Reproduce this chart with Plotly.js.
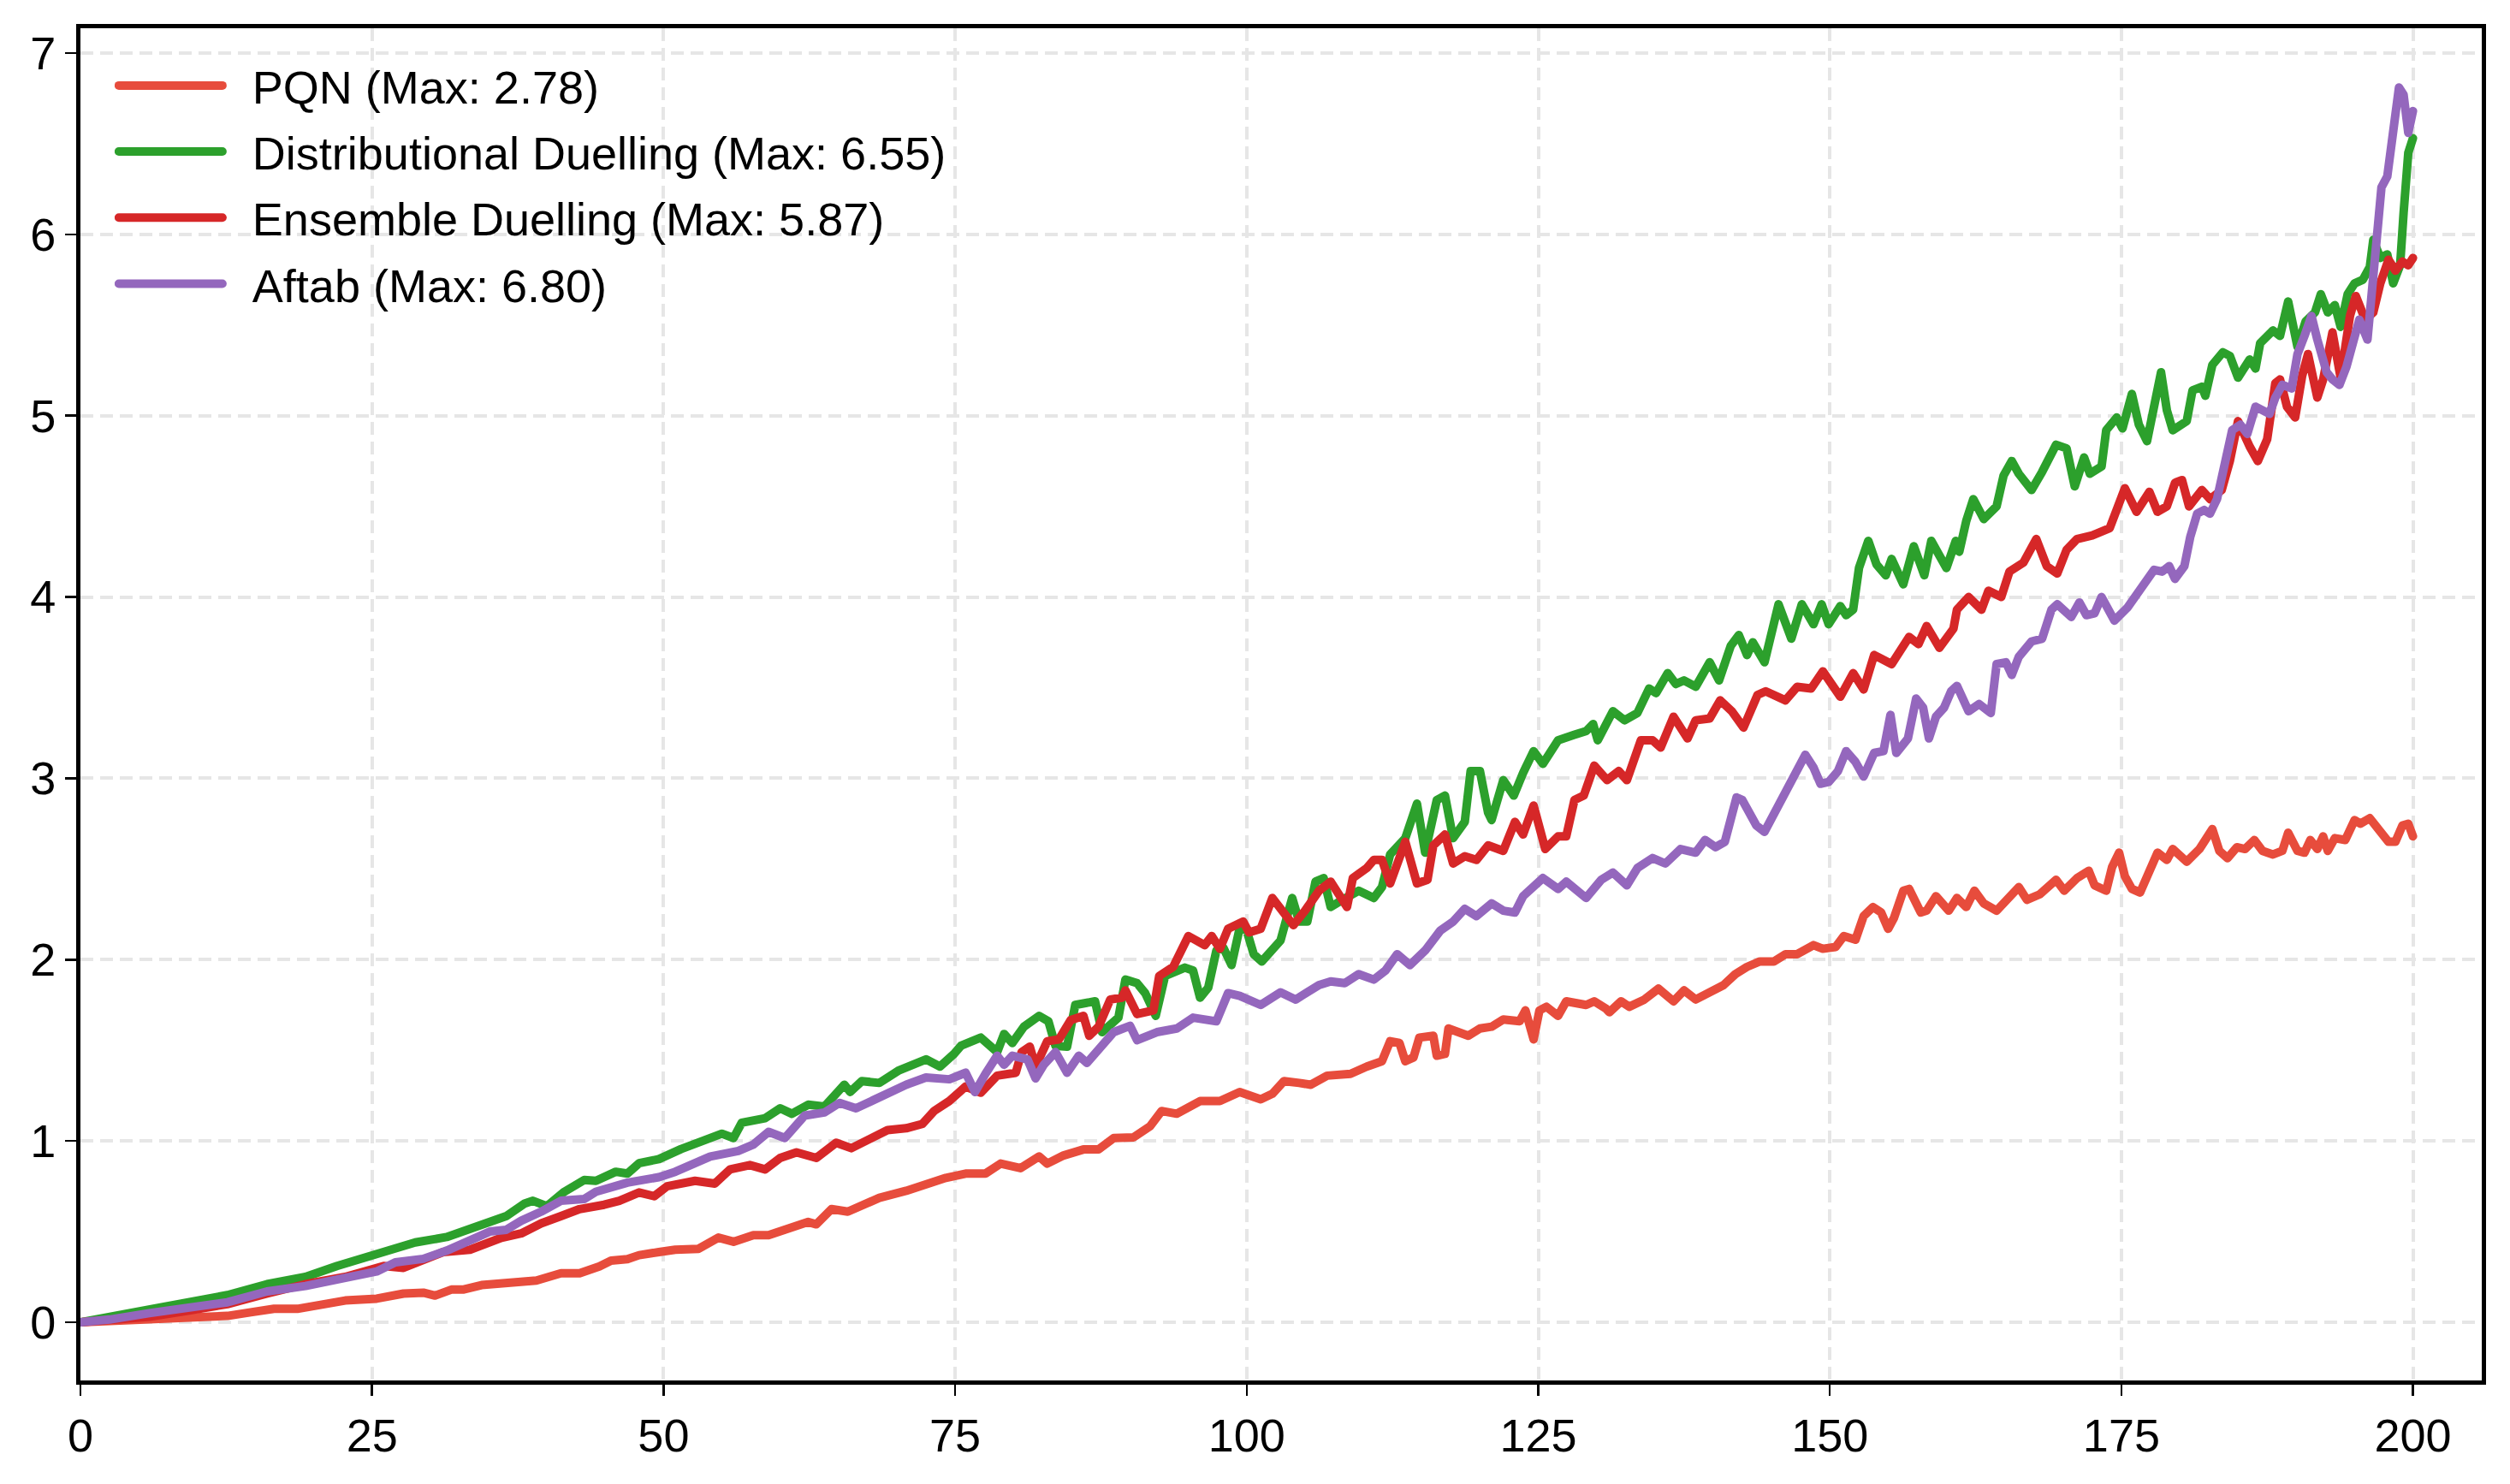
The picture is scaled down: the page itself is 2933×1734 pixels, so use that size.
<!DOCTYPE html>
<html>
<head>
<meta charset="utf-8">
<script src="https://cdn.plot.ly/plotly-3.0.1.min.js"></script>
<style>
html,body{margin:0;padding:0;background:#fff;}
#chart{width:2933px;height:1734px;}
.scatterlayer path.js-line{stroke-linejoin:round;stroke-linecap:round;}
.legend path.js-line{stroke-linecap:round;}
</style>
</head>
<body>
<div id="chart"></div>
<script>
const seriesNames = ["PQN (Max: 2.78)", "Distributional Duelling (Max: 6.55)", "Ensemble Duelling (Max: 5.87)", "Aftab (Max: 6.80)"];
const seriesColors = ["#e74c3c", "#2ca02c", "#d62728", "#9467bd"];
const xTicks = [0, 25, 50, 75, 100, 125, 150, 175, 200];
const yTicks = [0, 1, 2, 3, 4, 5, 6, 7];

const pqnX = [0,2.5,5.9,9.2,12.6,14.6,16.6,18.6,20.7,22.7,25.4,27.7,29.4,30.4,31.8,32.8,34.4,36.1,37.8,39.1,41.2,42.8,44.5,45.5,46.9,47.9,49.6,51,53,54.7,56,57.7,59,61,62.4,63.1,64.4,65.8,67.1,68.5,70.8,72.5,74.2,75.9,77.6,78.9,80.6,82.2,82.9,84.3,86,87.3,88.6,90.3,91.7,92.7,94,96,97.7,99.4,100.2,101.2,102.2,103.2,104.5,105.5,106.9,108.9,110.3,111.6,112.3,113.1,113.6,114.3,114.8,116,116.3,117,117.3,119,120,121,122,123.4,123.9,124.6,125.1,125.7,126.7,127.4,129.1,129.8,130.8,131.1,132.1,132.8,134.1,135.3,136.6,137.5,138.5,139.8,140.9,141.9,142.9,144,145.2,146.2,147.2,148.6,149.4,150.5,151.2,152.2,152.9,153.7,154.4,155,155.5,156.3,156.8,157.8,158.3,159.1,160.2,160.9,161.7,162.4,163.2,164.3,165.4,166.2,166.9,168,169.4,170.1,171.2,172.2,172.7,173.7,174.2,174.8,175.3,175.9,176.6,177.4,178.1,178.9,179.4,180.6,181.7,182.8,183.4,184.1,184.9,185.6,186.4,187.1,188,188.8,189.3,190.1,190.7,191.2,191.8,192.3,192.7,193.3,194.2,195,195.5,196.3,197,197.9,198.5,199.1,199.6,200];
const pqnY = [0,0.005,0.01,0.02,0.035,0.055,0.074,0.074,0.10,0.12,0.13,0.158,0.163,0.147,0.18,0.18,0.205,0.216,0.23,0.23,0.27,0.27,0.308,0.34,0.348,0.37,0.387,0.40,0.405,0.467,0.444,0.48,0.48,0.53,0.553,0.54,0.624,0.61,0.647,0.686,0.725,0.765,0.796,0.82,0.82,0.875,0.85,0.914,0.875,0.92,0.953,0.953,1.016,1.02,1.08,1.165,1.15,1.22,1.22,1.27,1.25,1.23,1.26,1.33,1.32,1.31,1.36,1.37,1.41,1.44,1.55,1.54,1.44,1.46,1.57,1.58,1.47,1.48,1.62,1.58,1.62,1.63,1.67,1.66,1.72,1.56,1.72,1.74,1.69,1.77,1.75,1.77,1.73,1.71,1.77,1.74,1.78,1.84,1.77,1.83,1.78,1.83,1.86,1.92,1.96,1.99,1.99,2.03,2.03,2.08,2.06,2.07,2.13,2.11,2.24,2.29,2.26,2.17,2.23,2.38,2.39,2.26,2.27,2.35,2.27,2.34,2.29,2.38,2.31,2.27,2.34,2.40,2.33,2.36,2.44,2.38,2.45,2.49,2.41,2.38,2.51,2.59,2.46,2.39,2.37,2.50,2.59,2.55,2.61,2.54,2.61,2.72,2.60,2.56,2.62,2.61,2.66,2.60,2.58,2.60,2.70,2.60,2.59,2.66,2.61,2.68,2.60,2.67,2.66,2.77,2.75,2.78,2.72,2.65,2.65,2.74,2.75,2.68];

const distX = [0,2.5,5.9,9.2,12.6,16.0,19.3,22.0,25.4,28.7,31.4,33.1,34.8,36.5,38.1,38.8,40.0,41.5,43.2,44.2,45.9,46.9,47.9,49.6,51.5,53,55,56,56.7,58.7,60,61,62.4,63.8,64.8,65.5,66,67,68.5,70.2,72.5,73.7,74.9,75.5,77.2,77.9,78.6,79.2,79.9,80.9,82.2,83,83.6,84.6,85.3,87,87.6,89,89.6,90.6,91.3,92.2,93,94.7,95.4,96,96.7,97.4,98,98.7,99.4,100,100.6,101.3,102.2,102.9,103.9,104.5,105.2,105.9,106.6,107.2,108.2,109.6,110.9,111.6,112.3,113.6,114.6,115.3,116.3,117,117.7,118.7,119.2,120,120.7,121,122,122.9,123.7,124.6,125.4,126.7,128.1,129.1,129.7,130.1,131.4,132.4,133.5,134.5,135.1,136.1,136.8,137.5,138.5,139.7,140.5,141.5,142.2,142.9,143.4,144.4,145.6,146.7,147.6,148.6,149.3,149.9,150.9,151.4,152,152.5,153.3,154,154.8,155.3,156.3,157.2,158.1,158.7,159.3,160,160.8,161.1,161.7,162.3,163.2,164.3,164.9,165.6,166.2,167.3,168.2,169.4,170.3,171,171.8,172.3,173.3,173.7,174.6,175.1,175.9,176.5,177.2,177.8,178.4,178.9,179.4,180.6,181.1,181.9,182.2,182.8,183.7,184.3,185,186,186.5,186.9,188,188.6,189.3,190.1,190.8,191.6,192.1,192.7,193.3,193.8,194.4,195,195.7,196.3,196.6,197.2,197.8,198.3,198.9,199.2,199.6,200];
const distY = [0,0.03,0.06,0.11,0.15,0.21,0.25,0.31,0.37,0.44,0.47,0.51,0.545,0.585,0.655,0.67,0.64,0.72,0.785,0.78,0.83,0.82,0.877,0.90,0.955,0.99,1.04,1.016,1.10,1.125,1.18,1.15,1.20,1.19,1.27,1.31,1.27,1.33,1.32,1.39,1.45,1.41,1.48,1.525,1.57,1.525,1.49,1.59,1.54,1.63,1.69,1.66,1.525,1.52,1.75,1.77,1.60,1.68,1.89,1.87,1.815,1.69,1.91,1.956,1.94,1.79,1.845,2.05,2.066,1.97,2.175,2.16,2.03,1.99,2.05,2.105,2.34,2.21,2.21,2.43,2.45,2.29,2.33,2.38,2.34,2.40,2.58,2.67,2.86,2.59,2.88,2.905,2.67,2.76,3.04,3.04,2.81,2.77,2.99,2.905,3.03,3.15,3.08,3.21,3.24,3.26,3.30,3.21,3.37,3.32,3.36,3.495,3.47,3.58,3.52,3.54,3.505,3.64,3.54,3.73,3.79,3.68,3.75,3.64,3.96,3.77,3.96,3.85,3.96,3.85,3.95,3.90,3.93,4.16,4.31,4.18,4.12,4.21,4.07,4.28,4.12,4.31,4.24,4.16,4.31,4.25,4.42,4.54,4.43,4.50,4.67,4.75,4.68,4.59,4.69,4.84,4.82,4.61,4.77,4.68,4.72,4.92,4.99,4.93,5.12,4.95,4.86,5.05,5.24,5.03,4.92,4.97,5.14,5.16,5.11,5.28,5.35,5.33,5.21,5.31,5.26,5.40,5.47,5.44,5.63,5.38,5.52,5.57,5.67,5.57,5.61,5.49,5.67,5.73,5.75,5.82,5.97,5.87,5.89,5.73,5.83,6.12,6.45,6.53];

const ensX = [0,5.9,9.2,12.6,16.0,19.3,22.7,26.0,27.7,31.1,33.4,36.1,37.8,39.5,41.2,42.8,44.9,46.2,47.9,49.2,50.3,51.6,52.7,54.4,55.7,57.4,58.7,60,61.4,63.1,64.8,66.1,67.8,69.2,70.8,72.2,73.2,74.5,75.9,77.2,78.6,80.2,80.7,81.4,81.9,82.9,83.9,84.9,86,86.5,87.3,88.3,89.3,89.6,90.6,92,92.5,93.7,95,96.4,97,97.7,98.4,99.7,100.2,101.2,102.2,102.9,104,105,106.2,107.2,108.6,109.1,110.3,110.9,111.6,112.3,113.6,114.6,115.5,116,117,117.7,118.7,119.7,120.7,122,123,123.7,124.6,125.6,126.7,127.4,128.1,128.9,129.8,130.9,131.9,132.6,133.8,134.8,135.5,136.6,137.8,138.5,139.7,140.6,141.6,142.6,143.8,144.5,146.2,147.2,148.4,149.4,150.1,150.9,152,152.9,153.8,155.3,156.8,157.6,158.3,159.4,160.6,160.9,161.9,163,163.6,164.7,165.4,166.6,167.7,168.6,169.5,170.3,171.2,172.5,174,174.8,175.3,176.3,177.4,178.1,178.9,179.6,180.2,180.8,181.9,182.6,183.6,184.3,185,186,186.7,187.5,188.2,188.6,189.2,189.9,190.5,191,191.8,192.3,193.1,193.8,194.6,195.1,195.9,196.6,197.2,197.9,198.5,199.1,199.6,200];
const ensY = [0,0.03,0.063,0.10,0.158,0.21,0.25,0.31,0.30,0.387,0.40,0.466,0.49,0.545,0.585,0.624,0.648,0.67,0.716,0.695,0.75,0.763,0.78,0.765,0.843,0.867,0.843,0.906,0.937,0.906,0.99,0.96,1.01,1.06,1.07,1.094,1.165,1.22,1.30,1.266,1.36,1.376,1.49,1.52,1.41,1.55,1.56,1.666,1.69,1.58,1.63,1.78,1.79,1.83,1.70,1.72,1.91,1.96,2.13,2.08,2.13,2.06,2.17,2.21,2.15,2.17,2.34,2.28,2.19,2.27,2.38,2.43,2.29,2.45,2.505,2.55,2.55,2.42,2.65,2.42,2.44,2.63,2.69,2.53,2.57,2.55,2.63,2.60,2.76,2.69,2.85,2.61,2.68,2.68,2.88,2.905,3.07,2.99,3.04,2.99,3.21,3.21,3.17,3.34,3.22,3.32,3.33,3.43,3.37,3.28,3.46,3.48,3.43,3.505,3.495,3.59,3.53,3.45,3.58,3.49,3.68,3.63,3.78,3.74,3.84,3.72,3.825,3.93,4.0,3.93,4.035,4.0,4.14,4.19,4.32,4.17,4.13,4.26,4.32,4.34,4.38,4.51,4.60,4.47,4.58,4.47,4.50,4.63,4.645,4.50,4.59,4.54,4.59,4.75,4.97,4.83,4.75,4.87,5.18,5.20,5.05,4.99,5.22,5.34,5.10,5.20,5.46,5.21,5.55,5.66,5.53,5.57,5.73,5.86,5.80,5.85,5.83,5.87];

const aftX = [0,2.5,5.9,9.2,12.6,16.0,19.3,22.7,25.4,27.0,29.4,31.4,33.4,35.1,36.5,37.8,39.5,41.2,43.2,44.2,46.9,49.6,51,52.4,54,56.4,57.7,59,60.4,61,62.1,63.8,65.1,66.5,67.8,69.2,70.8,72.5,74.5,75.9,76.7,77.6,78.6,79.2,79.9,81.2,81.9,82.6,83.6,84.6,85.6,86.3,87.6,88.6,90,90.6,92.3,94,95.4,97.4,98.4,99.4,101.2,102.9,104.2,106.2,107.2,108.4,109.6,110.9,111.9,112.9,114,115.3,116.6,117.7,118.7,119.7,121,122,123,123.7,125.4,126.7,127.4,128.4,129.1,130.4,131.4,132.6,133.5,134.8,135.9,137.2,138.5,139.3,140.2,141,142,142.5,143.7,144.4,145.2,145.9,146.9,147.9,148.6,149.2,149.9,150.7,151.4,152.2,152.9,153.8,154.6,155.2,155.7,156.7,157.4,158,158.5,159.1,159.8,160.4,160.9,161.9,162.8,163.8,164.3,165.1,165.6,166.2,167.3,168.2,169,169.5,170.7,171.4,172,172.7,173.3,174,174.4,175.5,176.3,177.2,177.8,178.5,179.1,179.6,180.4,180.9,181.5,182.1,182.6,183.2,183.7,184.5,185.2,185.8,186.5,187.7,188.2,188.8,189.6,190.1,190.7,191.3,191.8,192.6,193.1,193.7,194.3,194.8,195.4,196.1,196.7,197.3,197.8,198.4,198.8,199.2,199.6,200];
const aftY = [0,0.015,0.05,0.08,0.11,0.17,0.20,0.245,0.28,0.33,0.35,0.395,0.45,0.50,0.51,0.56,0.61,0.67,0.68,0.72,0.77,0.80,0.83,0.867,0.914,0.945,0.98,1.05,1.016,1.06,1.14,1.157,1.21,1.18,1.22,1.27,1.31,1.35,1.34,1.376,1.27,1.37,1.47,1.42,1.47,1.45,1.345,1.42,1.49,1.376,1.47,1.43,1.52,1.60,1.635,1.556,1.60,1.62,1.68,1.66,1.815,1.80,1.75,1.82,1.78,1.86,1.88,1.87,1.92,1.89,1.94,2.03,1.97,2.05,2.16,2.21,2.28,2.24,2.31,2.27,2.26,2.35,2.45,2.39,2.43,2.37,2.34,2.44,2.48,2.41,2.505,2.56,2.53,2.61,2.59,2.66,2.62,2.65,2.895,2.88,2.74,2.705,2.80,2.905,3.01,3.13,3.06,2.97,2.98,3.04,3.15,3.09,3.01,3.14,3.15,3.35,3.14,3.22,3.44,3.39,3.22,3.34,3.39,3.48,3.51,3.37,3.41,3.36,3.63,3.64,3.57,3.67,3.755,3.77,3.93,3.96,3.89,3.97,3.90,3.91,4.0,3.91,3.87,3.94,4.02,4.09,4.15,4.14,4.17,4.10,4.17,4.33,4.46,4.48,4.46,4.54,4.69,4.92,4.95,4.90,5.05,5.01,5.10,5.17,5.15,5.34,5.44,5.55,5.42,5.24,5.20,5.17,5.27,5.40,5.53,5.42,5.87,6.26,6.32,6.63,6.81,6.77,6.56,6.68];

const xs = [pqnX, distX, ensX, aftX];
const ys = [pqnY, distY, ensY, aftY];

const traces = seriesNames.map((name, i) => ({
  type: 'scatter',
  mode: 'lines',
  name: '\u00a0\u00a0' + name,
  legendgroup: 'g' + i,
  x: xs[i],
  y: ys[i],
  line: {color: seriesColors[i], width: 10, shape: 'linear'}
}));

const fontFamily = '"Liberation Sans", Arial, Helvetica, sans-serif';

const layout = {
  width: 2933,
  height: 1734,
  margin: {l: 94, r: 33, t: 33, b: 121, pad: 0},
  paper_bgcolor: '#ffffff',
  plot_bgcolor: '#ffffff',
  font: {family: fontFamily, size: 54, color: '#000000'},
  showlegend: true,
  legend: {
    x: 0.0142, y: 0.984, xanchor: 'left', yanchor: 'top',
    bgcolor: 'rgba(255,255,255,0)',
    borderwidth: 0,
    font: {family: fontFamily, size: 54, color: '#000000'},
    itemwidth: 121,
    tracegroupgap: 4
  },
  xaxis: {
    range: [0, 205.9],
    tickmode: 'array',
    tickvals: xTicks,
    ticktext: xTicks.map(String),
    ticks: 'outside', ticklen: 13, tickwidth: 2.5, tickcolor: '#000000',
    tickfont: {family: fontFamily, size: 54, color: '#000000'},
    showline: true, linecolor: '#000000', linewidth: 5, mirror: true,
    showgrid: true, gridcolor: '#e6e6e6', gridwidth: 4, griddash: '15px,8px',
    zeroline: false
  },
  yaxis: {
    range: [-0.321, 7.137],
    tickmode: 'array',
    tickvals: yTicks,
    ticktext: yTicks.map(String),
    ticks: 'outside', ticklen: 13, tickwidth: 2.5, tickcolor: '#000000',
    tickfont: {family: fontFamily, size: 54, color: '#000000'},
    showline: true, linecolor: '#000000', linewidth: 5, mirror: true,
    showgrid: true, gridcolor: '#e6e6e6', gridwidth: 4, griddash: '15px,8px',
    zeroline: false
  }
};

Plotly.newPlot('chart', traces, layout, {displayModeBar: false, staticPlot: true});
</script>
</body>
</html>
